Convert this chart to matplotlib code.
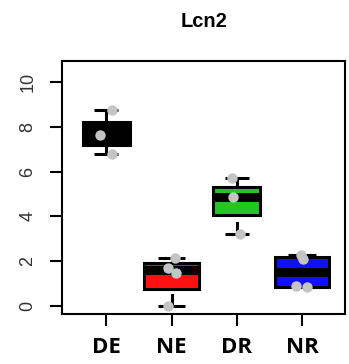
#!/usr/bin/env python3
"""
Lcn2 expression per group, R-style box plot with jittered points
"""

import numpy as np
import matplotlib
matplotlib.use('Agg')
import matplotlib.pyplot as plt

# values
groups = ['DE', 'NE', 'DR', 'NR']
de_vals = [8.77, 7.62, 6.79]
ne_vals = [2.16, 1.71, 1.49, 0.0]
dr_vals = [5.72, 4.87, 3.21]
nr_vals = [2.28, 2.10, 0.89, 0.83]
# horizontal jitter of each point (in group units)
de_jit = [0.08, -0.09, 0.08]
ne_jit = [0.05, -0.05, 0.07, -0.05]
dr_jit = [-0.07, -0.05, 0.05]
nr_jit = [-0.02, 0.02, -0.09, 0.08]
box_colors = ['#000000', '#ff1010', '#22c822', '#1010ff']
y_ticks = [0, 2, 4, 6, 8, 10]

data = [de_vals, ne_vals, dr_vals, nr_vals]
jitter = [de_jit, ne_jit, dr_jit, nr_jit]


def fivenum(v):
    # Tukey five-number summary, as R's boxplot uses
    v = np.sort(np.asarray(v, dtype=float))
    n = len(v)
    n4 = np.floor((n + 3) / 2) / 2
    d = np.array([1, n4, (n + 1) / 2, n + 1 - n4, n]) - 1
    return 0.5 * (v[np.floor(d).astype(int)] + v[np.ceil(d).astype(int)])


plt.rcParams['lines.scale_dashes'] = False
fig = plt.figure(figsize=(3.49, 3.64), dpi=100)
ax = fig.add_axes([62 / 349, 1 - 314 / 364, 283 / 349, 253 / 364])

nmax = max(len(v) for v in data)
for i, vals in enumerate(data):
    x = i + 1
    lo, q1, med, q3, hi = fivenum(vals)
    w = 0.84 * np.sqrt(len(vals) / nmax)   # varwidth
    ax.bar(x, q3 - q1, bottom=q1, width=w, color=box_colors[i],
           edgecolor='black', linewidth=2.2, zorder=2)
    ax.plot([x - w / 2 + 0.02, x + w / 2 - 0.02], [med, med], color='black',
            linewidth=6.5, solid_capstyle='butt', zorder=3)
    # whiskers drawn from the extreme towards the hinge, dashed
    for end, hinge in [(lo, q1), (hi, q3)]:
        ax.plot([x, x], [end, hinge], color='black', linewidth=2.2,
                dashes=(9, 9), zorder=1)
        ax.plot([x - w / 4, x + w / 4], [end, end], color='black',
                linewidth=2.2, solid_capstyle='butt', zorder=1)
    ax.plot(x + np.array(jitter[i]), vals, 'o', color='#c4c4c4',
            markersize=7.5, markeredgewidth=0, zorder=4)

ax.set_xlim(0.32, 4.66)
ax.set_ylim(-0.36, 10.94)
ax.set_xticks(range(1, 5))
ax.set_xticklabels(groups, fontfamily='Open Sans', fontweight='bold',
                   fontsize=16)
ax.set_yticks(y_ticks)
ax.set_yticklabels([str(t) for t in y_ticks], rotation=90, va='center',
                   fontfamily='Liberation Sans', fontsize=13, color='#333333')
ax.tick_params(axis='both', length=8.5, width=1.5)
ax.tick_params(axis='x', pad=8)
ax.tick_params(axis='y', pad=10)
for s in ax.spines.values():
    s.set_linewidth(1.5)

fig.text(204 / 349, 1 - 27 / 364, 'Lcn2', ha='center', va='baseline',
         fontfamily='Liberation Sans', fontweight='bold', fontsize=14.5)

plt.savefig('out.png', dpi=100)
plt.close()
